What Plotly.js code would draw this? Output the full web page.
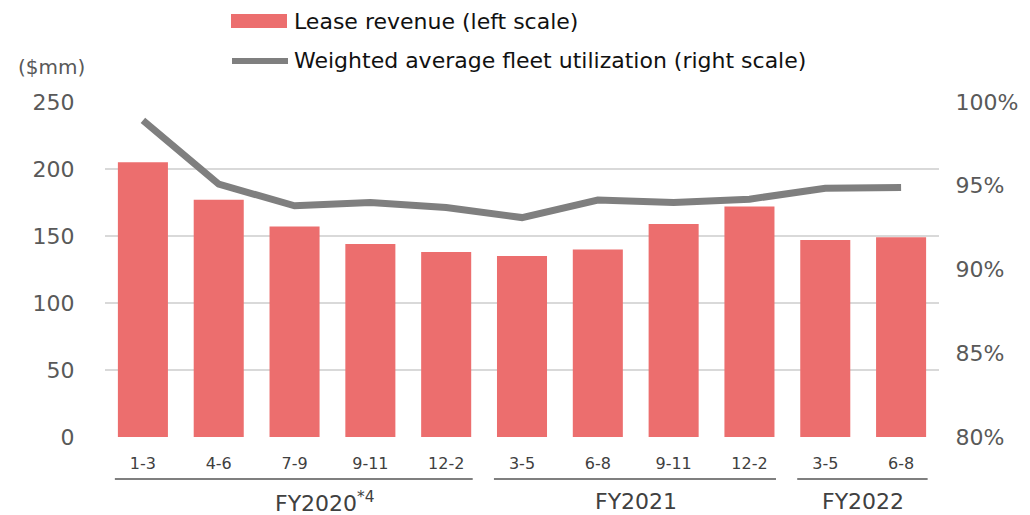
<!DOCTYPE html>
<html>
<head>
<meta charset="utf-8">
<script src="https://cdn.plot.ly/plotly-3.0.1.min.js"></script>
<style>html,body{margin:0;padding:0;background:#fff;}#chart{width:1030px;height:515px;}</style>
</head>
<body>
<div id="chart"></div>
<script>
// ---- data ----
const periods = ['1-3','4-6','7-9','9-11','12-2','3-5','6-8','9-11','12-2','3-5','6-8'];
const leaseRevenue = [205, 177, 157, 144, 138, 135, 140, 159, 172, 147, 149];
const utilization = [98.9, 95.1, 93.8, 94.0, 93.7, 93.1, 94.15, 94.0, 94.2, 94.85, 94.9];
const fiscalYears = ['FY2020<sup>*4</sup>', 'FY2021', 'FY2022'];
const fyStart = [0, 5, 9];
const fyEnd = [4, 8, 10];
const seriesNames = ['Lease revenue (left scale)', 'Weighted average fleet utilization (right scale)'];
const leftTicks = [0, 50, 100, 150, 200, 250];
const rightTicks = [80, 85, 90, 95, 100];

const idx = periods.map((_, i) => i);
const W = 1030, H = 515, L = 105, R = 91, T = 102, B = 78;
const pw = W - L - R, ph = H - T - B;
const px = x => (x - L) / pw;
const py = y => (H - B - y) / ph;

const barColor = '#EC6E6E';
const lineColor = '#7F7F7F';
const font = 'DejaVu Sans, Verdana, sans-serif';

const traces = [
  {type: 'bar', x: idx, y: leaseRevenue, name: seriesNames[0], marker: {color: barColor}, yaxis: 'y', hoverinfo: 'y'},
  {type: 'scatter', mode: 'lines', x: idx, y: utilization, name: seriesNames[1], line: {color: lineColor, width: 7}, yaxis: 'y2'}
];

const fyShift = [30, 0, 0];
const shapes = [];
const annotations = [];
fiscalYears.forEach((fy, i) => {
  const x0 = fyStart[i] - 0.37, x1 = fyEnd[i] + 0.35;
  shapes.push({type: 'line', xref: 'x', yref: 'paper', x0: x0, x1: x1, y0: py(479), y1: py(479), line: {color: '#7F7F7F', width: 2}});
  annotations.push({xref: 'x', yref: 'paper', x: (fyStart[i] + fyEnd[i]) / 2, xshift: fyShift[i], y: py(502), text: fy, showarrow: false, font: {family: font, size: 22, color: '#404040'}, xanchor: 'center', yanchor: 'middle'});
});
// legend (manual)
shapes.push({type: 'rect', xref: 'paper', yref: 'paper', x0: px(231), x1: px(287), y0: py(14), y1: py(28), fillcolor: barColor, line: {width: 0}});
shapes.push({type: 'line', xref: 'paper', yref: 'paper', x0: px(232), x1: px(288), y0: py(61), y1: py(61), line: {color: lineColor, width: 6}});
annotations.push({xref: 'paper', yref: 'paper', x: px(292), y: py(21), text: seriesNames[0], showarrow: false, xanchor: 'left', yanchor: 'middle', font: {family: font, size: 22, color: '#111'}});
annotations.push({xref: 'paper', yref: 'paper', x: px(292), y: py(61), text: seriesNames[1], showarrow: false, xanchor: 'left', yanchor: 'middle', font: {family: font, size: 22, color: '#111'}});
annotations.push({xref: 'paper', yref: 'paper', x: px(51), y: py(67), text: '($mm)', showarrow: false, xanchor: 'center', yanchor: 'middle', font: {family: font, size: 20, color: '#595959'}});

const layout = {
  width: W, height: H,
  margin: {l: L, r: R, t: T, b: B, pad: 0},
  paper_bgcolor: '#fff', plot_bgcolor: '#fff',
  showlegend: false,
  bargap: 0.34,
  font: {family: font, color: '#595959'},
  xaxis: {
    range: [-0.5, 10.5], tickvals: idx, ticktext: periods,
    showgrid: false, zeroline: false, showline: false,
    ticks: 'outside', ticklen: 12, tickcolor: 'rgba(0,0,0,0)',
    tickfont: {family: font, size: 16, color: '#404040'}, fixedrange: true
  },
  yaxis: {
    range: [0, 250], tickvals: leftTicks, showgrid: true, gridcolor: '#D9D9D9', gridwidth: 1.5,
    zeroline: false, showline: false,
    ticks: 'outside', ticklen: 25, tickcolor: 'rgba(0,0,0,0)',
    tickfont: {family: font, size: 22, color: '#595959'}
  },
  yaxis2: {
    range: [80, 100], tickvals: rightTicks, ticktext: rightTicks.map(v => v + '%'),
    overlaying: 'y', side: 'right', showgrid: false, zeroline: false, showline: false,
    ticks: 'outside', ticklen: 11, tickcolor: 'rgba(0,0,0,0)',
    tickfont: {family: font, size: 22, color: '#595959'}
  },
  shapes: shapes,
  annotations: annotations
};

Plotly.newPlot('chart', traces, layout, {displayModeBar: false, staticPlot: true});
</script>
</body>
</html>
